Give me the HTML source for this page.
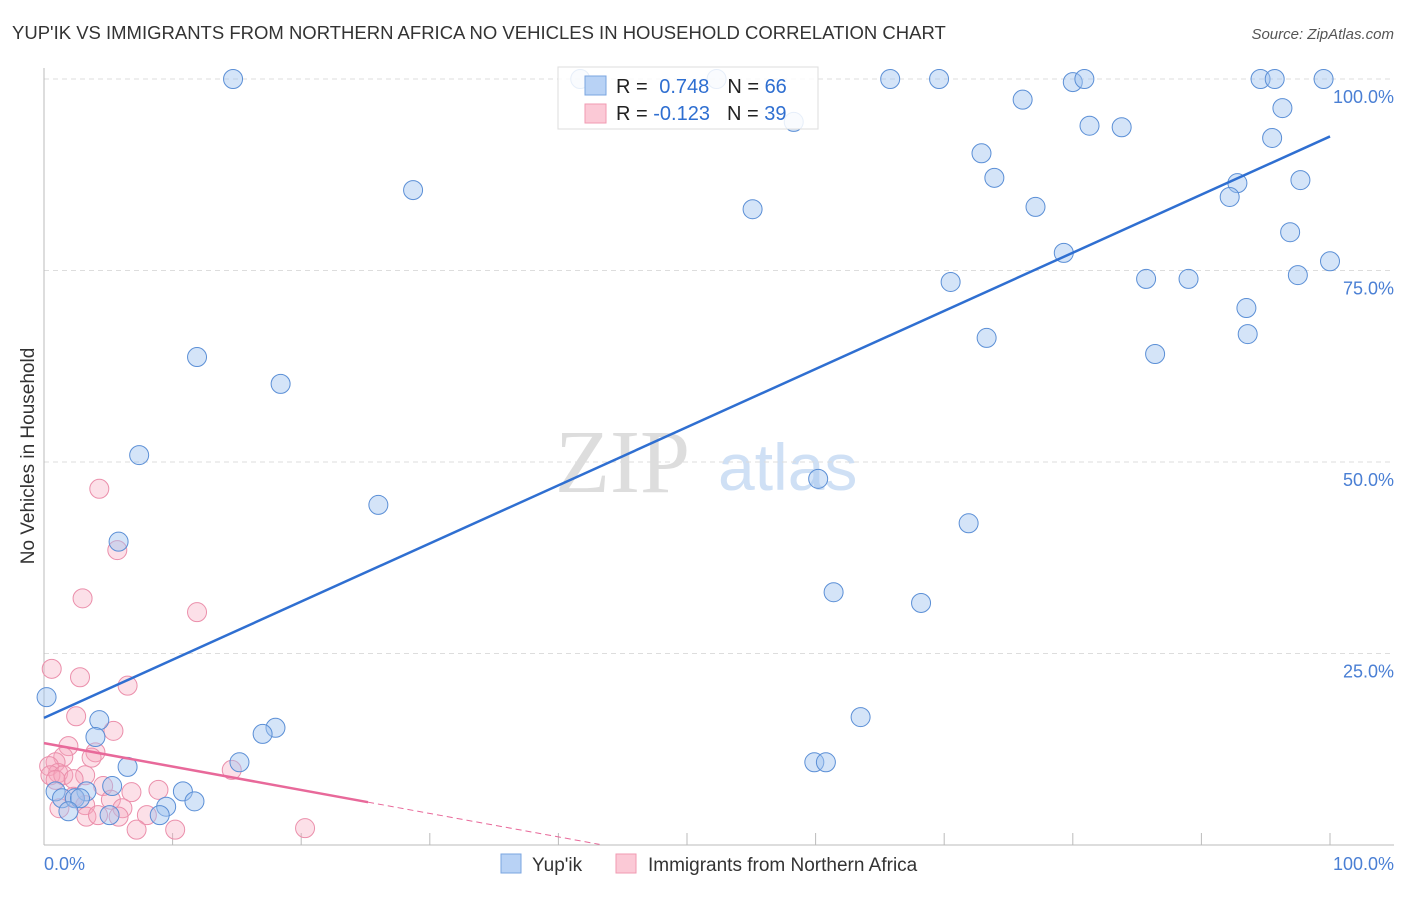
<!DOCTYPE html>
<html><head><meta charset="utf-8"><style>
body{margin:0;background:#fff;font-family:"Liberation Sans",sans-serif}
</style></head><body>
<svg id="c" width="1406" height="892" xmlns="http://www.w3.org/2000/svg" font-family="Liberation Sans, sans-serif">
<text x="12" y="39" font-size="18.5" fill="#333">YUP'IK VS IMMIGRANTS FROM NORTHERN AFRICA NO VEHICLES IN HOUSEHOLD CORRELATION CHART</text>
<text x="1394" y="39" font-size="15" fill="#555" font-style="italic" text-anchor="end">Source: ZipAtlas.com</text>
<text transform="translate(34,456) rotate(-90)" font-size="19" fill="#333" text-anchor="middle">No Vehicles in Household</text>
<text x="555" y="492" font-size="90" fill="#ddd" font-family="Liberation Serif, serif">ZIP</text>
<text x="718" y="490" font-size="66" fill="#cfe0f5">atlas</text>
<g id="grid"></g><g id="axes"></g><g id="pts"></g><g id="lines"></g>
<g>
<rect x="558" y="67" width="260" height="62" fill="#fff" fill-opacity="0.85" stroke="#ddd"/>
<rect x="585" y="76" width="21" height="19" fill="#b8d2f5" stroke="#7aa5e0"/>
<rect x="585" y="104" width="21" height="19" fill="#fbc9d6" stroke="#f09ab2"/>
<text x="616" y="93" font-size="20" fill="#222">R = <tspan fill="#2f6fd1" dx="6">0.748</tspan><tspan fill="#222" dx="18">N = </tspan><tspan fill="#2f6fd1">66</tspan></text>
<text x="616" y="120" font-size="20" fill="#222">R = <tspan fill="#2f6fd1">-0.123</tspan><tspan fill="#222" dx="17">N = </tspan><tspan fill="#2f6fd1">39</tspan></text>
</g>
<g>
<rect x="501" y="854" width="20" height="19" fill="#b8d2f5" stroke="#7aa5e0"/>
<text x="532" y="871" font-size="19" fill="#333">Yup'ik</text>
<rect x="616" y="854" width="20" height="19" fill="#fbc9d6" stroke="#f09ab2"/>
<text x="648" y="871" font-size="19" fill="#333">Immigrants from Northern Africa</text>
</g>
<text x="44" y="870" font-size="18" fill="#4a7fd4">0.0%</text>
<text x="1394" y="870" font-size="18" fill="#4a7fd4" text-anchor="end">100.0%</text>
</svg>
<script>
const yTicks=[25,50,75,100];
const yTickLabels=["25.0%","50.0%","75.0%","100.0%"];
const blueX=[14.7,41.7,52.3,65.8,69.6,80.0,80.9,94.6,95.7,99.5,58.3,76.1,96.3,81.3,83.8,95.5,72.9,73.9,97.7,92.8,92.2,28.7,55.1,77.1,96.9,79.3,100,85.7,89.0,97.5,70.5,93.5,93.6,73.3,86.4,11.9,18.4,7.4,26.0,60.2,71.9,5.8,61.4,68.2,0.2,63.5,4.3,18.0,17.0,4.0,15.2,59.9,60.8,6.5,5.3,0.9,3.3,10.8,1.4,2.4,2.8,11.7,9.5,1.9,5.1,9.0];
const blueY=[100,100,100,100,100,99.6,100,100,100,100,94.4,97.3,96.2,93.9,93.7,92.3,90.3,87.1,86.8,86.4,84.6,85.5,83.0,83.3,80.0,77.3,76.2,73.9,73.9,74.4,73.5,70.1,66.7,66.2,64.1,63.7,60.2,50.9,44.4,47.8,42.0,39.6,33.0,31.6,19.3,16.7,16.3,15.3,14.5,14.1,10.8,10.8,10.8,10.2,7.7,7.0,7.0,7.0,6.1,6.1,6.1,5.7,5.0,4.4,3.9,3.9];
const pinkX=[4.3,5.7,3.0,11.9,0.6,2.8,6.5,2.5,5.4,1.9,4.0,3.7,1.5,0.9,0.4,14.6,1.1,3.2,0.5,1.5,0.9,2.3,4.6,6.8,8.9,2.3,5.2,3.2,6.1,1.2,3.3,5.8,8.0,4.2,7.2,10.2,20.3];
const pinkY=[46.5,38.5,32.2,30.4,23.0,21.9,20.8,16.8,14.9,12.9,12.1,11.4,11.5,10.8,10.3,9.8,9.4,9.1,9.1,9.1,8.5,8.6,7.7,6.9,7.2,6.3,5.9,5.2,4.8,4.8,3.7,3.7,3.9,3.9,2.0,2.0,2.2];
const blueTrend=[16.6,92.5];
const pinkTrend=[13.3,-0.306];
const NS="http://www.w3.org/2000/svg";
const X=v=>44+12.86*v, Y=v=>845-7.66*v;
function mk(t,a,p){const e=document.createElementNS(NS,t);for(const k in a)e.setAttribute(k,a[k]);document.getElementById(p).appendChild(e);return e;}
yTicks.forEach((t,i)=>{
 const g=mk('line',{x1:44,x2:1394,y1:Y(t),y2:Y(t),stroke:'#ddd','stroke-dasharray':'5,4'},'grid');
 
 
 const l=mk('text',{x:1394,y:Y(t)+24,'font-size':18,fill:'#4a7fd4','text-anchor':'end'},'grid');
 l.textContent=yTickLabels[i];
 
 
});
const ax=mk('line',{x1:44,x2:44,y1:68,y2:845,stroke:'#bbb'},'axes');


const bx=mk('line',{x1:44,x2:1394,y1:845,y2:845,stroke:'#bbb'},'axes');


for(let i=0;i<=10;i++){const t=mk('line',{x1:X(i*10),x2:X(i*10),y1:833,y2:845,stroke:'#bbb'},'axes');
 
 }
pinkX.forEach((v,i)=>{const c=mk('circle',{cx:X(v),cy:Y(pinkY[i]),r:9.5,fill:'rgba(245,165,188,0.35)',stroke:'#eb8fab','stroke-width':1},'pts');
 
 });
blueX.forEach((v,i)=>{const c=mk('circle',{cx:X(v),cy:Y(blueY[i]),r:9.5,fill:'rgba(160,196,240,0.45)',stroke:'#5b8fd6','stroke-width':1},'pts');
 
 });
const bl=mk('line',{x1:X(0),y1:Y(blueTrend[0]),x2:X(100),y2:Y(blueTrend[1]),stroke:'#2f6fd1','stroke-width':2.5},'lines');


const pl=mk('line',{x1:X(0),y1:Y(pinkTrend[0]),x2:X(25.2),y2:Y(pinkTrend[0]+pinkTrend[1]*25.2),stroke:'#e8699a','stroke-width':2.5},'lines');


const pd=mk('line',{x1:X(25.2),y1:Y(pinkTrend[0]+pinkTrend[1]*25.2),x2:X(43.2),y2:Y(pinkTrend[0]+pinkTrend[1]*43.2),stroke:'#e8699a','stroke-width':1,'stroke-dasharray':'6,4'},'lines');


</script>
</body></html>
